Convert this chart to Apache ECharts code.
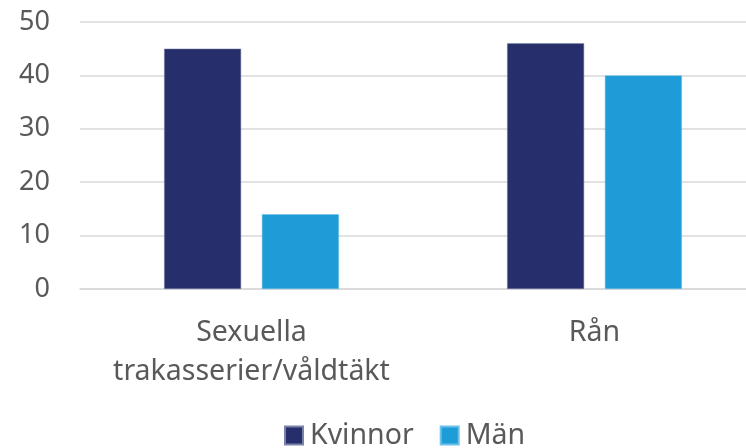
<!DOCTYPE html>
<html><head><meta charset="utf-8">
<script src="https://cdn.jsdelivr.net/npm/echarts@6/dist/echarts.min.js"></script>
<style>html,body{margin:0;padding:0;background:#fff;overflow:hidden}#c{width:766px;height:448px}</style>
</head><body><div id="c"></div>
<script>
const categories = ['Sexuella\ntrakasserier/våldtäkt', 'Rån'];
const kvinnor = [45, 46];
const man = [14, 40];
const seriesNames = ['Kvinnor', 'Män'];
const chart = echarts.init(document.getElementById('c'));
const font = '"Noto Sans", sans-serif';
chart.setOption({
  animation: false,
  grid: {left: 80, right: 0, top: 22, height: 267},
  legend: {
    data: seriesNames, top: 421, left: 284, padding: 0, itemWidth: 18, itemHeight: 18, itemGap: 26,
    textStyle: {fontFamily: font, fontSize: 28.5, color: '#595959', padding: [0, 0, 0, 2]}, icon: 'rect'
  },
  xAxis: {
    type: 'category', data: categories,
    axisLine: {show: true, lineStyle: {color: '#d9d9d9', width: 1.5}},
    axisTick: {show: false},
    axisLabel: {interval: 0, fontFamily: font, fontSize: 28.5, color: '#595959', margin: 24, lineHeight: 39}
  },
  yAxis: {
    type: 'value', min: 0, max: 50, interval: 10,
    axisLine: {show: false}, axisTick: {show: false},
    splitLine: {lineStyle: {color: '#d9d9d9', width: 1.5}},
    axisLabel: {fontFamily: font, fontSize: 27, color: '#595959', margin: 30}
  },
  series: [
    {name: seriesNames[0], type: 'bar', data: kvinnor, barWidth: 77, barGap: '27%',
     itemStyle: {color: '#262E6B', borderColor: '#7d82a8', borderWidth: 0.5}},
    {name: seriesNames[1], type: 'bar', data: man, barWidth: 77,
     itemStyle: {color: '#1E9CD7', borderColor: '#6cc0ea', borderWidth: 0.5}}
  ]
});
</script></body></html>
